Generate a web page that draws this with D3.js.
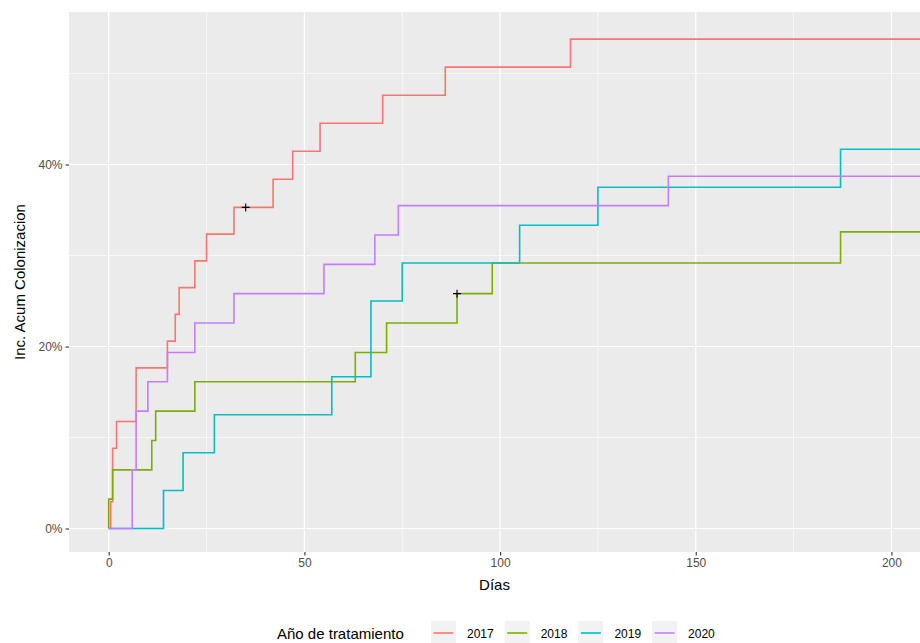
<!DOCTYPE html>
<html lang="es">
<head>
<meta charset="UTF-8">
<title>Incidencia acumulada de colonización</title>
<script src="https://cdn.jsdelivr.net/npm/d3@7"></script>
<style>
    body { margin: 0; background: #fff; }
    svg { display: block; font-family: "Liberation Sans", Arial, Helvetica, sans-serif; }
    .tick text { fill: #4D4D4D; font-size: 12px; }
    .axis-title { fill: #000; font-size: 15px; }
</style>
</head>
<body>
<svg width="920" height="643"></svg>
<script>
    // datos (dias, incidencia acumulada %)
    var years = ["2017", "2018", "2019", "2020"];
    var colors = ["#F8766D", "#7CAE00", "#00BFC4", "#C77CFF"];

    var days2017 = [0, 0.5, 1, 2, 7, 15, 17, 18, 22, 25, 32, 42, 47, 54, 70, 86, 118, 212];
    var inc2017 = [0, 2.94, 8.82, 11.76, 17.65, 20.59, 23.53, 26.47, 29.41, 32.35, 35.29, 38.38, 41.46, 44.54, 47.62, 50.70, 53.78, 53.78];

    var days2018 = [0, 0, 1, 11, 12, 22, 63, 71, 89, 98, 187, 212];
    var inc2018 = [0, 3.23, 6.45, 9.68, 12.90, 16.13, 19.35, 22.58, 25.81, 29.18, 32.6, 32.6];

    var days2019 = [0, 14, 19, 27, 57, 67, 75, 105, 125, 187, 212];
    var inc2019 = [0, 4.17, 8.33, 12.5, 16.67, 25.0, 29.17, 33.33, 37.5, 41.67, 41.67];

    var days2020 = [0, 6, 7, 10, 15, 22, 32, 55, 68, 74, 143, 212];
    var inc2020 = [0, 6.45, 12.9, 16.13, 19.35, 22.58, 25.81, 29.03, 32.26, 35.48, 38.71, 38.71];

    // marcas de censura
    var censorDays = [35, 89];
    var censorInc = [35.29, 25.81];

    var xTicks = [0, 50, 100, 150, 200];
    var xMinor = [25, 75, 125, 175];
    var yTicks = [0, 20, 40];
    var yMinor = [10, 30, 50];

    var allDays = [days2017, days2018, days2019, days2020];
    var allInc = [inc2017, inc2018, inc2019, inc2020];

    var panel = {left: 69, right: 920, top: 12, bottom: 552};

    var x = d3.scaleLinear().domain([-10.15, 207.3]).range([panel.left, panel.right]);
    var y = d3.scaleLinear().domain([-2.58, 56.76]).range([panel.bottom, panel.top]);

    var svg = d3.select("svg");

    svg.append("defs").append("clipPath")
            .attr("id", "clip")
            .append("rect")
            .attr("x", panel.left)
            .attr("y", panel.top)
            .attr("width", panel.right - panel.left)
            .attr("height", panel.bottom - panel.top);

    svg.append("rect")
            .attr("x", panel.left)
            .attr("y", panel.top)
            .attr("width", panel.right - panel.left)
            .attr("height", panel.bottom - panel.top)
            .attr("fill", "#EBEBEB");

    var grid = svg.append("g").attr("clip-path", "url(#clip)");

    grid.selectAll("line.xminor")
            .data(xMinor)
            .enter()
            .append("line")
            .attr("x1", function(d) { return x(d); })
            .attr("x2", function(d) { return x(d); })
            .attr("y1", panel.top)
            .attr("y2", panel.bottom)
            .attr("stroke", "#fff")
            .attr("stroke-width", 0.6);

    grid.selectAll("line.yminor")
            .data(yMinor)
            .enter()
            .append("line")
            .attr("x1", panel.left)
            .attr("x2", panel.right)
            .attr("y1", function(d) { return y(d); })
            .attr("y2", function(d) { return y(d); })
            .attr("stroke", "#fff")
            .attr("stroke-width", 0.6);

    grid.selectAll("line.xmajor")
            .data(xTicks)
            .enter()
            .append("line")
            .attr("x1", function(d) { return x(d); })
            .attr("x2", function(d) { return x(d); })
            .attr("y1", panel.top)
            .attr("y2", panel.bottom)
            .attr("stroke", "#fff")
            .attr("stroke-width", 1.2);

    grid.selectAll("line.ymajor")
            .data(yTicks)
            .enter()
            .append("line")
            .attr("x1", panel.left)
            .attr("x2", panel.right)
            .attr("y1", function(d) { return y(d); })
            .attr("y2", function(d) { return y(d); })
            .attr("stroke", "#fff")
            .attr("stroke-width", 1.2);

    // curvas escalonadas
    var line = d3.line()
            .x(function(d) { return x(d[0]); })
            .y(function(d) { return y(d[1]); })
            .curve(d3.curveStepAfter);

    var series = years.map(function(yr, i) {
        return {
            year: yr,
            color: colors[i],
            points: allDays[i].map(function(d, j) { return [d, allInc[i][j]]; })
        };
    });

    grid.selectAll("path.curve")
            .data(series)
            .enter()
            .append("path")
            .attr("class", "curve")
            .attr("d", function(d) { return line(d.points); })
            .attr("fill", "none")
            .attr("stroke", function(d) { return d.color; })
            .attr("stroke-width", 1.6);

    grid.selectAll("path.censor")
            .data(censorDays)
            .enter()
            .append("path")
            .attr("class", "censor")
            .attr("d", function(d, i) {
                var cx = x(d), cy = y(censorInc[i]), s = 4;
                return "M" + (cx - s) + "," + cy + "H" + (cx + s) + "M" + cx + "," + (cy - s) + "V" + (cy + s);
            })
            .attr("stroke", "#000")
            .attr("stroke-width", 1.1);

    // ejes
    var xAxis = svg.append("g")
            .attr("transform", "translate(0," + panel.bottom + ")")
            .call(d3.axisBottom(x).tickValues(xTicks).tickSize(3.5).tickPadding(3));
    var yAxis = svg.append("g")
            .attr("transform", "translate(" + panel.left + ",0)")
            .call(d3.axisLeft(y).tickValues(yTicks).tickSize(3.5).tickPadding(3)
                    .tickFormat(function(d) { return d + "%"; }));

    [xAxis, yAxis].forEach(function(a) {
        a.select(".domain").remove();
        a.selectAll(".tick line").attr("stroke", "#333333").attr("stroke-width", 1.1);
        a.selectAll(".tick text").attr("font-size", null);
    });

    svg.append("text")
            .attr("class", "axis-title")
            .attr("x", (panel.left + panel.right) / 2)
            .attr("y", 590)
            .attr("text-anchor", "middle")
            .text("Días");

    svg.append("text")
            .attr("class", "axis-title")
            .attr("transform", "translate(25," + ((panel.top + panel.bottom) / 2) + ") rotate(-90)")
            .attr("text-anchor", "middle")
            .text("Inc. Acum Colonizacion");

    // leyenda
    var legend = svg.append("g").attr("transform", "translate(0,633)");

    legend.append("text")
            .attr("class", "axis-title")
            .attr("x", 277)
            .attr("y", 5.5)
            .text("Año de tratamiento");

    var items = legend.selectAll("g.item")
            .data(series)
            .enter()
            .append("g")
            .attr("class", "item")
            .attr("transform", function(d, i) { return "translate(" + (431 + i * 73.7) + ",0)"; });

    items.append("rect")
            .attr("x", 0)
            .attr("y", -12)
            .attr("width", 25)
            .attr("height", 24)
            .attr("fill", "#F2F2F2");

    items.append("line")
            .attr("x1", 2.5)
            .attr("x2", 22.5)
            .attr("y1", 0)
            .attr("y2", 0)
            .attr("stroke", function(d) { return d.color; })
            .attr("stroke-width", 1.6);

    items.append("text")
            .attr("x", 36)
            .attr("y", 4.5)
            .attr("font-size", 12)
            .attr("fill", "#000")
            .text(function(d) { return d.year; });
</script>
</body>
</html>
